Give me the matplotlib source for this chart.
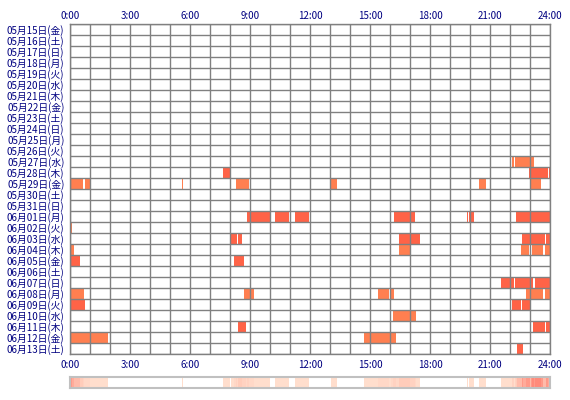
import numpy as np
import matplotlib
matplotlib.use("Agg")
import matplotlib.pyplot as plt
from matplotlib.colors import LinearSegmentedColormap

plt.rcParams['font.family'] = ['Noto Sans CJK JP', 'DejaVu Sans']

days = ["05月15日(金)", "05月16日(土)", "05月17日(日)", "05月18日(月)", "05月19日(火)",
        "05月20日(水)", "05月21日(木)", "05月22日(金)", "05月23日(土)", "05月24日(日)",
        "05月25日(月)", "05月26日(火)", "05月27日(水)", "05月28日(木)", "05月29日(金)",
        "05月30日(土)", "05月31日(日)", "06月01日(月)", "06月02日(火)", "06月03日(水)",
        "06月04日(木)", "06月05日(金)", "06月06日(土)", "06月07日(日)", "06月08日(月)",
        "06月09日(火)", "06月10日(水)", "06月11日(木)", "06月12日(金)", "06月13日(土)"]

hour_ticks = [0, 3, 6, 9, 12, 15, 18, 21, 24]
hour_labels = ["0:00", "3:00", "6:00", "9:00", "12:00", "15:00", "18:00", "21:00", "24:00"]

# (day index, start hour, end hour, kind)  kind: t = tomato, c = coral
sessions = [
    (12, 22.12, 22.18, 'c'), (12, 22.25, 23.18, 'c'),
    (13, 7.65, 8.0, 't'), (13, 22.93, 22.98, 't'), (13, 23.03, 23.92, 't'), (13, 23.96, 24.0, 't'),
    (14, 0.0, 0.65, 'c'), (14, 0.77, 1.0, 'c'), (14, 5.6, 5.67, 'c'), (14, 8.3, 8.95, 'c'),
    (14, 13.03, 13.33, 'c'), (14, 20.45, 20.8, 'c'), (14, 23.03, 23.55, 'c'),
    (17, 8.85, 10.0, 't'), (17, 10.25, 10.93, 't'), (17, 11.25, 11.95, 't'), (17, 16.2, 17.25, 't'),
    (17, 19.83, 19.88, 't'), (17, 19.93, 20.2, 't'), (17, 22.3, 24.0, 't'),
    (18, 0.0, 0.1, 'c'),
    (19, 8.03, 8.35, 't'), (19, 8.4, 8.6, 't'), (19, 16.45, 17.5, 't'), (19, 22.6, 23.77, 't'),
    (19, 23.82, 24.0, 't'),
    (20, 0.0, 0.18, 'c'), (20, 16.45, 17.0, 'c'), (20, 22.55, 22.95, 'c'), (20, 23.08, 23.65, 'c'),
    (20, 23.75, 24.0, 'c'),
    (21, 0.0, 0.5, 't'), (21, 8.2, 8.7, 't'),
    (23, 21.55, 22.18, 't'), (23, 22.23, 23.13, 't'), (23, 23.25, 24.0, 't'),
    (24, 0.0, 0.7, 'c'), (24, 8.7, 9.2, 'c'), (24, 15.4, 15.95, 'c'), (24, 16.05, 16.2, 'c'),
    (24, 22.8, 23.65, 'c'), (24, 23.75, 24.0, 'c'),
    (25, 0.0, 0.75, 't'), (25, 20.33, 20.37, 't'), (25, 22.1, 22.55, 't'), (25, 22.6, 23.0, 't'),
    (26, 16.15, 17.3, 'c'),
    (27, 8.4, 8.8, 't'), (27, 23.15, 23.75, 't'), (27, 23.8, 24.0, 't'),
    (28, 0.0, 1.88, 'c'), (28, 14.7, 16.3, 'c'),
    (29, 22.35, 22.65, 't'),
]

colors = {'t': '#FF6347', 'c': '#FF7F50'}
navy = '#000080'
W, H = 570, 400

fig = plt.figure(figsize=(W / 100, H / 100), dpi=100)
ax = fig.add_axes([70 / W, (H - 354) / H, 480 / W, 330 / H])

n = len(days)
for d, s, e, k in sessions:
    ax.barh(d + 0.5, e - s, left=s, height=1.0, color=colors[k], linewidth=0, zorder=2)

for h in range(25):
    ax.axvline(h, color='#808080', lw=1.0, zorder=3)
for r in range(n + 1):
    ax.axhline(r, color='#808080', lw=1.0, zorder=3)

ax.set_xlim(0, 24)
ax.set_ylim(n, 0)
ax.set_xticks(hour_ticks)
ax.set_xticklabels(hour_labels)
ax.set_yticks(np.arange(n) + 0.5)
ax.set_yticklabels(days)
ax.tick_params(axis='x', length=0, pad=4, labelsize=7, labelcolor=navy)
ax.tick_params(axis='y', length=0, pad=4, labelsize=7, labelcolor=navy)
for sp in ax.spines.values():
    sp.set_color('#808080')
    sp.set_linewidth(1.0)

# hour labels above the grid
top = ax.secondary_xaxis('top')
top.set_xticks(hour_ticks)
top.set_xticklabels(hour_labels)
top.tick_params(length=0, pad=2, labelsize=7, labelcolor=navy)
top.spines['top'].set_visible(False)

# activity summary strip
minutes = np.zeros(24 * 60)
for d, s, e, k in sessions:
    minutes[int(round(s * 60)):int(round(e * 60))] += 1
level = minutes / minutes.max()

cmap = LinearSegmentedColormap.from_list('heat', ['#FFE4D4', '#FFCDBB', '#FF8A7A'])
rgba = cmap(level)
rgba[minutes == 0] = (1, 1, 1, 1)

sx = fig.add_axes([70 / W, (H - 388) / H, 480 / W, 11 / H])
sx.imshow(rgba[np.newaxis, :, :], aspect='auto', extent=[0, 24, 0, 1], interpolation='nearest')
sx.set_xlim(0, 24)
sx.set_xticks([])
sx.set_yticks([])
for sp in sx.spines.values():
    sp.set_color('#C0C0C0')
    sp.set_linewidth(1.5)

fig.savefig('out.png', dpi=100)
